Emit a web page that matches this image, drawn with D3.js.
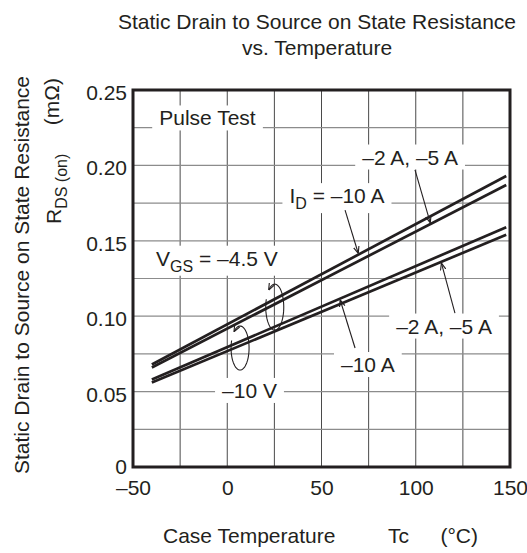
<!DOCTYPE html>
<html>
<head>
<meta charset="utf-8">
<script src="https://cdn.jsdelivr.net/npm/d3@7.9.0/dist/d3.min.js"></script>
<style>
  body { margin: 0; background: #fff; }
  svg { font-family: "Liberation Sans", Arial, sans-serif; fill: #231f20; }
  text { fill: #231f20; }
</style>
</head>
<body>
<svg id="chart" width="527" height="553"></svg>
<script>
// case temperature (°C) and RDS(on) (mΩ)
let temps = [-40, 148];
let vgs45_id10 = [0.068, 0.193];
let vgs45_id25 = [0.066, 0.187];
let vgs10_id10 = [0.058, 0.159];
let vgs10_id25 = [0.056, 0.154];

let xTicks = [-50, 0, 50, 100, 150];
let yTicks = [0, 0.05, 0.10, 0.15, 0.20, 0.25];

let svg = d3.select('#chart');
let mLeft = 133, mRight = 510, mTop = 90, mBottom = 467;
let fs = 21;

let x = d3.scaleLinear().domain([-50, 150]).range([mLeft, mRight]);
let y = d3.scaleLinear().domain([0, 0.25]).range([mBottom, mTop]);

// grid
svg.append('g').selectAll('line')
  .data(d3.range(-25, 150, 25))
  .join('line')
  .attr('x1', d => x(d)).attr('x2', d => x(d))
  .attr('y1', mTop).attr('y2', mBottom)
  .attr('stroke', '#4a4a4a').attr('stroke-width', 1);
svg.append('g').selectAll('line')
  .data(d3.range(1, 10).map(i => i * 0.025))
  .join('line')
  .attr('y1', d => y(d)).attr('y2', d => y(d))
  .attr('x1', mLeft).attr('x2', mRight)
  .attr('stroke', '#8c8c8c').attr('stroke-width', 1.2);

// axes labels
let fmtX = d => d < 0 ? '\u2013' + Math.abs(d) : d;
let fmtY = d => d === 0 ? '0' : d3.format('.2f')(d);

let xAxis = svg.append('g')
  .attr('transform', `translate(0,${mBottom})`)
  .call(d3.axisBottom(x).tickValues(xTicks).tickSize(0).tickPadding(13).tickFormat(fmtX));
xAxis.select('.domain').remove();
xAxis.selectAll('text').attr('font-size', fs).attr('fill', '#231f20');

let yAxis = svg.append('g')
  .attr('transform', `translate(${mLeft},0)`)
  .call(d3.axisLeft(y).tickValues(yTicks).tickSize(0).tickPadding(6).tickFormat(fmtY));
yAxis.select('.domain').remove();
yAxis.selectAll('text').attr('font-size', fs).attr('fill', '#231f20').attr('dy', '0.45em');
yAxis.selectAll('.tick').filter(d => d === 0).select('text').attr('dy', '0.3em');

// labels with white boxes that cut the grid
function boxLabel(tx, ty, parts) {
  let g = svg.append('g');
  let t = g.append('text')
    .attr('x', x(tx)).attr('y', y(ty))
    .attr('text-anchor', 'middle')
    .attr('dy', '0.36em')
    .attr('font-size', fs);
  parts.forEach(p => {
    let s = t.append('tspan').text(p.t);
    if (p.sub) s.attr('font-size', 16).attr('dy', '6');
    if (p.up) s.attr('dy', '-6');
  });
  let b = t.node().getBBox();
  g.insert('rect', 'text')
    .attr('x', b.x - 7).attr('y', b.y - 1)
    .attr('width', b.width + 14).attr('height', b.height + 2)
    .attr('fill', '#fff');
}

// frame
svg.append('rect')
  .attr('x', mLeft).attr('y', mTop)
  .attr('width', mRight - mLeft).attr('height', mBottom - mTop)
  .attr('fill', 'none').attr('stroke', '#231f20').attr('stroke-width', 3);

boxLabel(-10.5, 0.2315, [{t: 'Pulse Test'}]);
boxLabel(97, 0.2056, [{t: '\u20132 A, \u20135 A'}]);
boxLabel(58.2, 0.1800, [{t: 'I'}, {t: 'D', sub: true}, {t: ' = \u201310 A', up: true}]);
boxLabel(-5.5, 0.1385, [{t: 'V'}, {t: 'GS', sub: true}, {t: ' = \u20134.5 V', up: true}]);
boxLabel(115, 0.0935, [{t: '\u20132 A, \u20135 A'}]);
boxLabel(74.6, 0.0680, [{t: '\u201310 A'}]);
boxLabel(11.8, 0.0508, [{t: '\u201310 V'}]);

// series lines
let series = [vgs45_id10, vgs45_id25, vgs10_id10, vgs10_id25];
let line = d3.line().x(d => x(d[0])).y(d => y(d[1]));
series.forEach(s => {
  svg.append('path')
    .attr('d', line(temps.map((t, i) => [t, s[i]])))
    .attr('fill', 'none')
    .attr('stroke', '#231f20')
    .attr('stroke-width', 2.7);
});

// arrowhead
svg.append('defs').append('marker')
  .attr('id', 'arr')
  .attr('viewBox', '0 0 10 10')
  .attr('refX', 9).attr('refY', 5)
  .attr('markerWidth', 7).attr('markerHeight', 7)
  .attr('markerUnits', 'userSpaceOnUse')
  .attr('orient', 'auto')
  .append('path')
  .attr('d', 'M0,1 L10,5 L0,9')
  .attr('fill', 'none')
  .attr('stroke', '#231f20')
  .attr('stroke-width', 1.6);

function valAt(s, t) {
  return s[0] + (s[1] - s[0]) * (t - temps[0]) / (temps[1] - temps[0]);
}
function pointer(fx, fy, s, t, off) {
  svg.append('line')
    .attr('x1', x(fx)).attr('y1', y(fy))
    .attr('x2', x(t)).attr('y2', y(valAt(s, t)) + off)
    .attr('stroke', '#231f20').attr('stroke-width', 1.1)
    .attr('marker-end', 'url(#arr)');
}
pointer(62.5, 0.1704, vgs45_id10, 69.4, -2);
pointer(99.6, 0.197, vgs45_id25, 107.6, -2);
pointer(120.8, 0.1021, vgs10_id25, 113.7, 2);
pointer(67.8, 0.0789, vgs10_id10, 60, 2);

// circular arrows around the pairs
function loop(cx, cy, rx, ry) {
  let pts = d3.range(200, -131, -5).map(a => {
    let r = a * Math.PI / 180;
    return [x(cx) + rx * Math.cos(r), y(cy) + ry * Math.sin(r)];
  });
  svg.append('path')
    .attr('d', d3.line()(pts))
    .attr('fill', 'none')
    .attr('stroke', '#231f20').attr('stroke-width', 1.1)
    .attr('marker-end', 'url(#arr)');
}
loop(25.2, 0.106, 9, 23);
loop(6.8, 0.0789, 9, 22);

// titles
let title = svg.append('text')
  .attr('text-anchor', 'middle')
  .attr('font-size', fs);
title.append('tspan').attr('x', 317).attr('y', 29).text('Static Drain to Source on State Resistance');
title.append('tspan').attr('x', 317).attr('y', 55).text('vs. Temperature');

let xt = svg.append('g').attr('font-size', fs);
xt.append('text').attr('x', 163).attr('y', 543).text('Case Temperature');
xt.append('text').attr('x', 388).attr('y', 543).text('Tc');
xt.append('text').attr('x', 478).attr('y', 543).attr('text-anchor', 'end').text('(\u00b0C)');

svg.append('text')
  .attr('transform', 'translate(29,275) rotate(-90)')
  .attr('text-anchor', 'middle')
  .attr('font-size', fs)
  .text('Static Drain to Source on State Resistance');

let rt = svg.append('text')
  .attr('transform', 'translate(61,224) rotate(-90)')
  .attr('font-size', fs);
rt.append('tspan').text('R');
rt.append('tspan').attr('font-size', 16).attr('dy', 6).text('DS (on)');
svg.append('text')
  .attr('transform', 'translate(59,78) rotate(-90)')
  .attr('text-anchor', 'end')
  .attr('font-size', fs)
  .text('(m\u03a9)');
</script>
</body>
</html>
